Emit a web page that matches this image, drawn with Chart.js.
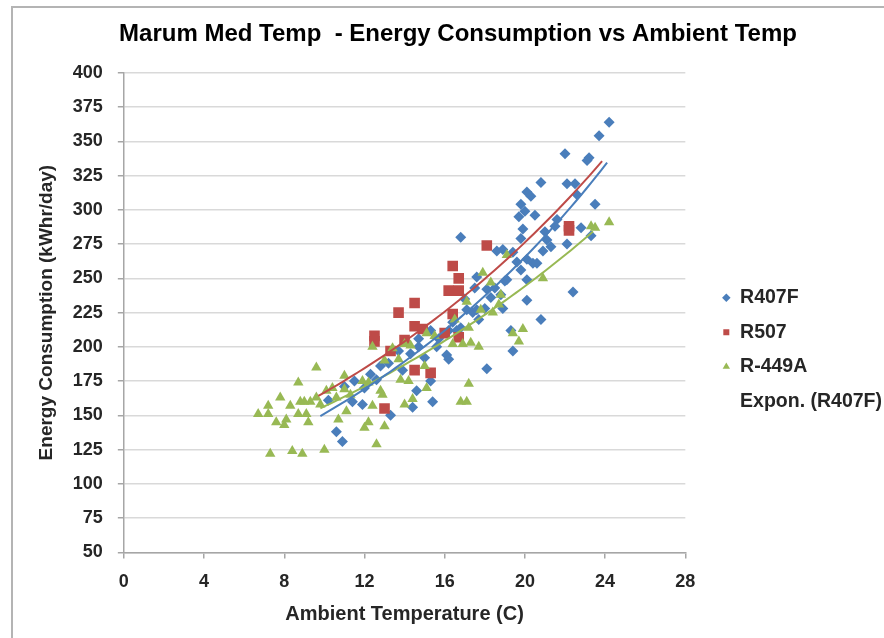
<!DOCTYPE html>
<html>
<head>
<meta charset="utf-8">
<script src="https://cdn.jsdelivr.net/npm/chart.js@4.4.1/dist/chart.umd.min.js"></script>
<style>
  html, body { margin: 0; padding: 0; background: #fff; overflow: hidden; }
  #frame { position: absolute; left: 11px; top: 6px; width: 900px; height: 700px;
           border-left: 2px solid #b4b4b4; border-top: 2px solid #b4b4b4; }
  #wrap { position: absolute; left: 0; top: 0; width: 884px; height: 638px; }
</style>
</head>
<body>
<div id="frame"></div>
<div id="wrap"><canvas id="chart" width="884" height="638"></canvas></div>
<script>
// ambient temperature (C) / energy (kWhr/day)
const r407fTemp = [24.2, 23.7, 22.0, 23.2, 23.1, 20.8, 22.1, 22.5, 20.1, 20.3, 22.6, 19.8, 23.5, 20.5, 19.7,
  20.0, 21.6, 22.8, 23.3, 21.5, 19.9, 21.1, 19.8, 21.3, 22.1, 20.9, 19.4, 18.9, 18.6, 20.1, 20.4, 20.6, 19.8,
  19.1, 20.1, 20.1, 18.9, 22.4, 20.8, 16.8, 19.0, 17.6, 18.1, 18.5, 17.1, 17.4, 17.6, 17.7, 16.6, 16.2, 15.7,
  16.1, 16.2, 14.7, 14.3, 13.7, 13.2, 18.1, 19.4, 14.6, 15.4, 13.3, 14.4, 11.5, 11.0, 10.2, 11.4, 11.9, 10.6,
  10.9, 12.3, 12.8, 15.3, 19.3, 15.3, 14.7, 17.5, 15.0, 15.6, 16.4, 17.0, 18.3, 18.8, 19.6, 21.0, 13.9, 12.6,
  12.0, 16.8, 18.0];
const r407fEnergy = [364, 354, 341, 338, 336, 320, 319, 319, 313, 310, 311, 304, 304, 296, 295,
  299, 293, 287, 281, 288, 286, 278, 279, 273, 275, 270, 269, 271, 270, 264, 261, 261, 256,
  249, 249, 234, 228, 240, 220, 280, 248, 251, 242, 243, 227, 225, 227, 220, 212, 212, 206,
  194, 191, 200, 195, 197, 188, 184, 197, 168, 160, 150, 156, 175, 171, 161, 160, 158, 138,
  131, 180, 186, 175, 212, 212, 206, 243, 192, 200, 218, 235, 236, 238, 262, 284, 183, 176,
  170, 214, 228];

const r507Temp = [12.5, 12.5, 13.0, 13.3, 13.7, 14.0, 14.5, 14.5, 14.5, 15.3, 14.9, 16.0, 16.4, 16.4, 16.7,
  16.2, 16.7, 16.7, 18.1, 22.2, 22.2];
const r507Energy = [208, 204, 155, 197, 225, 205, 232, 215, 183, 181, 213, 210, 259, 224, 250,
  241, 241, 207, 274, 288, 285];

const r449aTemp = [6.7, 7.2, 7.2, 7.8, 7.6, 8.0, 8.1, 8.3, 8.7, 8.8, 8.7, 9.0, 9.1, 9.2, 9.6, 9.6, 9.3, 9.8,
  7.3, 8.4, 8.9, 10.0, 10.1, 10.4, 10.6, 11.0, 11.0, 11.1, 10.7, 11.9, 12.0, 12.2, 12.4, 13.0, 12.6, 12.2,
  12.4, 12.8, 12.9, 13.4, 13.7, 13.8, 14.2, 14.0, 14.3, 14.0, 14.4, 15.0, 15.1, 15.1, 15.5, 16.5, 16.9, 17.3,
  17.7, 16.4, 17.2, 16.8, 17.1, 17.1, 17.9, 18.3, 18.8, 18.7, 18.4, 17.8, 17.2, 19.4, 19.9, 19.7, 20.9, 19.1,
  23.3, 23.5, 24.2, 13.0, 11.3];
const r449aEnergy = [151, 157, 151, 163, 145, 143, 147, 157, 174, 160, 151, 160, 151, 145, 185, 163, 160, 158,
  122, 124, 122, 125, 168, 170, 163, 179, 169, 153, 147, 175, 141, 145, 157, 142, 129, 174,
  200, 168, 165, 199, 191, 176, 175, 202, 201, 158, 162, 186, 170, 210, 208, 220, 202, 203,
  200, 202, 173, 160, 160, 233, 254, 247, 238, 231, 225, 227, 214, 210, 213, 204, 250, 267,
  288, 287, 291, 190, 165];

// exponential trendlines y = a * e^(b x), as drawn in the chart
const trendNames = ['R407F', 'R507', 'R-449A'];
const trendA = [86.1, 100.6, 100.3];
const trendB = [0.0563, 0.0505, 0.0445];
const trendFrom = [9.8, 9.7, 9.8];
const trendTo = [24.1, 23.85, 23.4];

const xTicks = [0, 4, 8, 12, 16, 20, 24, 28];
const yMin = 50, yMax = 400, yStep = 25;

const blue = '#4a7ebb', red = '#be4b48', green = '#98b954';
const family = "'Liberation Sans', Arial, sans-serif";

function pairs(xs, ys) {
    return xs.map((x, i) => ({ x: x, y: ys[i] }));
}

function trendPoints(k) {
    const pts = [];
    for (let x = trendFrom[k]; x < trendTo[k]; x += 0.25) {
        pts.push({ x: x, y: trendA[k] * Math.exp(trendB[k] * x) });
    }
    pts.push({ x: trendTo[k], y: trendA[k] * Math.exp(trendB[k] * trendTo[k]) });
    return pts;
}

const colors = [blue, red, green];

const datasets = [
    { label: 'R407F', data: pairs(r407fTemp, r407fEnergy), pointStyle: 'rectRot', pointRadius: 5.5,
      backgroundColor: blue, borderColor: blue, borderWidth: 0, order: 3, inLegend: true, legendStyle: 'rectRot' },
    { label: 'R507', data: pairs(r507Temp, r507Energy), pointStyle: 'rect', pointRadius: 7.5,
      backgroundColor: red, borderColor: red, borderWidth: 0, order: 2, inLegend: true, legendStyle: 'rect' },
    { label: 'R-449A', data: pairs(r449aTemp, r449aEnergy), pointStyle: 'triangle', pointRadius: 6,
      backgroundColor: green, borderColor: green, borderWidth: 0, order: 1, inLegend: true, legendStyle: 'triangle' }
];

trendNames.forEach((name, k) => {
    datasets.push({
        type: 'line', label: 'Expon. (' + name + ')', data: trendPoints(k),
        borderColor: colors[k], borderWidth: 2, pointRadius: 0, showLine: true, fill: false,
        tension: 0, order: 0, inLegend: k === 0, legendStyle: 'circle', legendBlank: true
    });
});

const tickFont = { family: family, size: 18, weight: 'bold' };
const axisColor = '#a6a6a6';

new Chart(document.getElementById('chart').getContext('2d'), {
    type: 'scatter',
    data: { datasets: datasets },
    options: {
        responsive: false,
        animation: false,
        layout: { padding: { left: 24, right: -8, top: 10, bottom: 6 } },
        plugins: {
            title: {
                display: true,
                text: 'Marum Med Temp  - Energy Consumption vs Ambient Temp',
                color: '#000',
                font: { family: family, size: 24, weight: 'bold' },
                padding: { top: 10, bottom: 24 }
            },
            legend: {
                position: 'right',
                align: 'center',
                maxWidth: 240,
                title: { display: true, text: ' ', font: { size: 40 }, padding: { top: 0, bottom: 9 } },
                labels: {
                    usePointStyle: true,
                    boxWidth: 8,
                    boxHeight: 6,
                    padding: 15,
                    color: '#262626',
                    font: { family: family, size: 19.5, weight: 'bold' },
                    generateLabels: chart => chart.data.datasets
                        .map((ds, i) => ({
                            text: ds.label,
                            fillStyle: ds.legendBlank ? 'rgba(0,0,0,0)' : ds.backgroundColor,
                            strokeStyle: ds.legendBlank ? 'rgba(0,0,0,0)' : ds.borderColor,
                            lineWidth: 0,
                            pointStyle: ds.legendStyle,
                            fontColor: '#262626',
                            hidden: false,
                            datasetIndex: i
                        }))
                        .filter(item => chart.data.datasets[item.datasetIndex].inLegend)
                }
            },
            tooltip: { enabled: false }
        },
        scales: {
            x: {
                type: 'linear',
                min: xTicks[0],
                max: xTicks[xTicks.length - 1],
                afterBuildTicks: axis => { axis.ticks = xTicks.map(v => ({ value: v })); },
                ticks: { font: tickFont, color: '#262626', padding: 13 },
                grid: { drawOnChartArea: false, tickLength: 6, color: axisColor, lineWidth: 1.5 },
                border: { color: axisColor, width: 1.5 },
                title: {
                    display: true, text: 'Ambient Temperature (C)', color: '#262626',
                    font: { family: family, size: 20, weight: 'bold', lineHeight: 0.8 },
                    padding: { top: 0, bottom: 10 }
                }
            },
            y: {
                type: 'linear',
                min: yMin,
                max: yMax,
                ticks: { stepSize: yStep, font: tickFont, color: '#262626', padding: 15 },
                grid: { color: '#d9d9d9', lineWidth: 1.5, tickLength: 6, tickColor: axisColor },
                border: { color: axisColor, width: 1.5 },
                title: {
                    display: true, text: 'Energy Consumption (kWhr/day)', color: '#262626',
                    font: { family: family, size: 19, weight: 'bold' },
                    padding: { top: 11, bottom: 0 }
                }
            },
            gap: {
                type: 'linear',
                axis: 'y',
                position: 'right',
                grid: { display: false },
                ticks: { display: false },
                border: { display: false },
                afterFit: axis => { axis.width = 22; }
            }
        }
    }
});
</script>
</body>
</html>
